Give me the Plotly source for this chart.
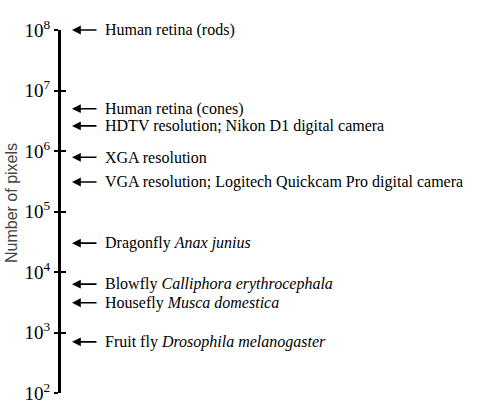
import math
import plotly.graph_objects as go

# Data
labels = [
    "Human retina (rods)",
    "Human retina (cones)",
    "HDTV resolution; Nikon D1 digital camera",
    "XGA resolution",
    "VGA resolution; Logitech Quickcam Pro digital camera",
    "Dragonfly <i>Anax junius</i>",
    "Blowfly <i>Calliphora erythrocephala</i>",
    "Housefly <i>Musca domestica</i>",
    "Fruit fly <i>Drosophila melanogaster</i>",
]
pixels = [1e8, 5e6, 2.6e6, 786432, 307200, 3.0e4, 6300, 3100, 700]
tick_exponents = [2, 3, 4, 5, 6, 7, 8]
tick_labels = ["10<sup>%d</sup>" % e for e in tick_exponents]
axis_title = "Number of pixels"

FONT = "Liberation Serif, Times New Roman, serif"
SANS = "Liberation Sans, Arial, sans-serif"
W, H = 494, 408
L, R, T, B = 61, 0, 30, 15

fig = go.Figure()
fig.add_trace(go.Scatter(x=[L], y=[10 ** tick_exponents[0]], mode="markers",
                         marker=dict(opacity=0), showlegend=False, hoverinfo="skip"))
fig.add_trace(go.Scatter(x=[L], y=[10 ** tick_exponents[0]], mode="markers", yaxis="y2",
                         marker=dict(opacity=0), showlegend=False, hoverinfo="skip"))

annotations = []
for lab, v in zip(labels, pixels):
    ly = math.log10(v)
    annotations.append(dict(x=72, y=ly, xref="x", yref="y", text="", showarrow=True,
                            ax=98, ay=ly, axref="x", ayref="y",
                            arrowhead=2, arrowsize=1.1, arrowwidth=1.6, arrowcolor="black",
                            standoff=0, startstandoff=0))
    annotations.append(dict(x=103, y=ly, xref="x", yref="y", text=lab, showarrow=False,
                            xanchor="left", yanchor="middle",
                            font=dict(family=FONT, size=16, color="black")))

annotations.append(dict(x=(11 - L) / (W - L - R), y=(H - B - 203) / (H - T - B),
                        xref="paper", yref="paper", text=axis_title,
                        showarrow=False, textangle=-90, xanchor="center", yanchor="middle",
                        font=dict(family=SANS, size=16, color="#444")))

common = dict(type="log", range=[tick_exponents[0], tick_exponents[-1]],
              tickvals=[10 ** e for e in tick_exponents],
              showgrid=False, zeroline=False, fixedrange=True)

fig.update_layout(
    width=W, height=H,
    margin=dict(l=L, r=R, t=T, b=B),
    paper_bgcolor="white", plot_bgcolor="white",
    showlegend=False,
    annotations=annotations,
    xaxis=dict(range=[L, W], visible=False, fixedrange=True),
    yaxis=dict(**common, ticktext=tick_labels,
               showline=True, linewidth=3, linecolor="black",
               ticks="outside", ticklen=4, tickwidth=1.5, tickcolor="black",
               tickfont=dict(family=FONT, size=19, color="black")),
    yaxis2=dict(**common, overlaying="y", side="left", showticklabels=False,
                showline=False, ticks="inside", ticklen=5, tickwidth=1.5, tickcolor="black"),
)

fig.write_html("out.html")
